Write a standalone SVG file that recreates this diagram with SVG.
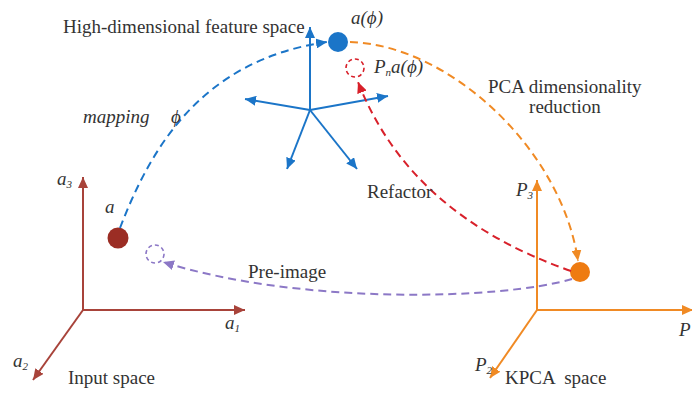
<svg xmlns="http://www.w3.org/2000/svg" width="692" height="393" viewBox="0 0 692 393">
<defs>
<marker id="mBlue" markerUnits="userSpaceOnUse" markerWidth="12" markerHeight="10" refX="11" refY="5" orient="auto"><path d="M0,0 L11,5 L0,10 Z" fill="#1B75C8"/></marker>
<marker id="mBrown" markerUnits="userSpaceOnUse" markerWidth="12" markerHeight="10" refX="11" refY="5" orient="auto"><path d="M0,0 L11,5 L0,10 Z" fill="#A8433A"/></marker>
<marker id="mOrange" markerUnits="userSpaceOnUse" markerWidth="12" markerHeight="10" refX="11" refY="5" orient="auto"><path d="M0,0 L11,5 L0,10 Z" fill="#F08A24"/></marker>
<marker id="mRed" markerUnits="userSpaceOnUse" markerWidth="12" markerHeight="10" refX="11" refY="5" orient="auto"><path d="M0,0 L11,5 L0,10 Z" fill="#D8202A"/></marker>
<marker id="mPurple" markerUnits="userSpaceOnUse" markerWidth="12" markerHeight="10" refX="11" refY="5" orient="auto"><path d="M0,0 L11,5 L0,10 Z" fill="#8C78C6"/></marker>
</defs>

<g id="input-space">
<g stroke="#A8433A" stroke-width="2" fill="none">
<line x1="83" y1="310" x2="83" y2="177" marker-end="url(#mBrown)"/>
<line x1="83" y1="310" x2="245" y2="310" marker-end="url(#mBrown)"/>
<line x1="83" y1="310" x2="33" y2="380" marker-end="url(#mBrown)"/>
</g>
<text x="57" y="185" font-family="Liberation Serif" font-size="19" font-style="italic" fill="#333">a<tspan font-size="11" dy="3">3</tspan></text>
<text x="225" y="329" font-family="Liberation Serif" font-size="19" font-style="italic" fill="#333">a<tspan font-size="11" dy="3">1</tspan></text>
<text x="13" y="367" font-family="Liberation Serif" font-size="19" font-style="italic" fill="#333">a<tspan font-size="11" dy="3">2</tspan></text>
<text x="68" y="384" font-family="Liberation Serif" font-size="19" fill="#333">Input space</text>
</g>

<g id="node-a">
<circle cx="118" cy="238" r="10.5" fill="#9B2D24"/>
<text x="105" y="213" font-family="Liberation Serif" font-size="19" font-style="italic" fill="#333">a</text>
</g>

<g id="node-preimage">
<circle cx="155" cy="254" r="9" fill="none" stroke="#8C78C6" stroke-width="1.6" stroke-dasharray="4 3"/>
</g>

<g id="feature-space">
<g stroke="#1B75C8" stroke-width="2" fill="none">
<line x1="310" y1="110" x2="310" y2="27" marker-end="url(#mBlue)"/>
<line x1="310" y1="110" x2="245" y2="99" marker-end="url(#mBlue)"/>
<line x1="310" y1="110" x2="388" y2="96" marker-end="url(#mBlue)"/>
<line x1="310" y1="110" x2="287" y2="169" marker-end="url(#mBlue)"/>
<line x1="310" y1="110" x2="357" y2="169" marker-end="url(#mBlue)"/>
</g>
<text x="63" y="33" font-family="Liberation Serif" font-size="19" fill="#333">High-dimensional feature space</text>
</g>

<g id="node-a-phi">
<circle cx="338" cy="42" r="10" fill="#1B75C8"/>
<text x="351" y="24" font-family="Liberation Serif" font-size="19" font-style="italic" fill="#333">a(ϕ)</text>
</g>

<g id="node-pn-a-phi">
<circle cx="355" cy="68" r="9" fill="none" stroke="#D8202A" stroke-width="1.6" stroke-dasharray="4 3"/>
<text x="374" y="73" font-family="Liberation Serif" font-size="19" font-style="italic" fill="#333">P<tspan font-size="11" dy="3">n</tspan><tspan dy="-3">a(ϕ)</tspan></text>
</g>

<g id="kpca-space">
<g stroke="#F08A24" stroke-width="2" fill="none">
<line x1="537" y1="310" x2="537" y2="180" marker-end="url(#mOrange)"/>
<line x1="537" y1="310" x2="693" y2="310" marker-end="url(#mOrange)"/>
<line x1="537" y1="310" x2="490" y2="378" marker-end="url(#mOrange)"/>
</g>
<text x="516" y="196" font-family="Liberation Serif" font-size="19" font-style="italic" fill="#333">P<tspan font-size="11" dy="3">3</tspan></text>
<text x="475" y="371" font-family="Liberation Serif" font-size="19" font-style="italic" fill="#333">P<tspan font-size="11" dy="3">2</tspan></text>
<text x="679" y="336" font-family="Liberation Serif" font-size="19" font-style="italic" fill="#333">P</text>
<text x="505" y="384" font-family="Liberation Serif" font-size="19" fill="#333" xml:space="preserve">KPCA  space</text>
</g>

<g id="node-kpca-point">
<circle cx="580" cy="272" r="10" fill="#EE7B11"/>
</g>

<g id="connectors" fill="none" stroke-width="2" stroke-dasharray="8 5">
<path stroke="#1B75C8" d="M120,228 C150,150 200,60 327,42" marker-end="url(#mBlue)"/>
<path stroke="#F08A24" d="M350,42 C450,45 562,150 578,261" marker-end="url(#mOrange)"/>
<path stroke="#D8202A" d="M571,271 Q410,215 358,82" marker-end="url(#mRed)"/>
<path stroke="#8C78C6" d="M572,279 C500,300 300,305 163,262" marker-end="url(#mPurple)"/>
</g>

<g id="labels" font-family="Liberation Serif" font-size="19" fill="#333">
<text x="83" y="123" font-style="italic">mapping</text>
<text x="171" y="123" font-style="italic">ϕ</text>
<text x="488" y="93">PCA dimensionality</text>
<text x="565" y="113" text-anchor="middle">reduction</text>
<text x="367" y="198">Refactor</text>
<text x="248" y="278">Pre-image</text>
</g>
</svg>
